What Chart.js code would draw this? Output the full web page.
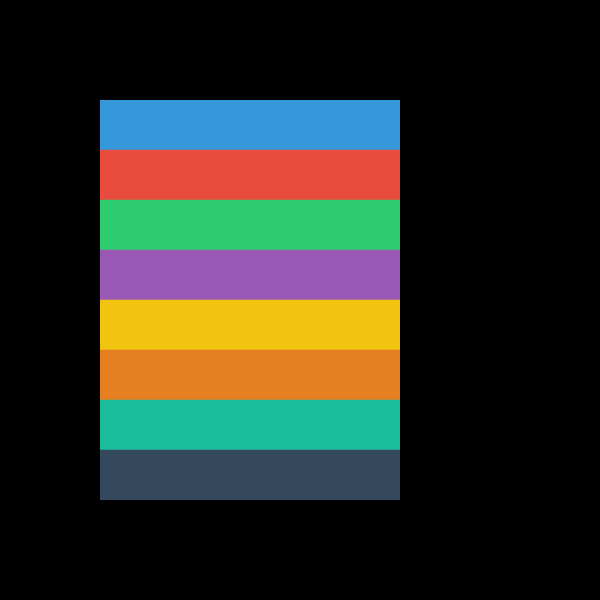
<!DOCTYPE html>
<html>
<head>
<meta charset="utf-8">
<script src="https://cdn.jsdelivr.net/npm/chart.js@4"></script>
<style>
  html, body { margin: 0; padding: 0; background: #000; }
  #wrap { width: 600px; height: 600px; }
</style>
</head>
<body>
<div id="wrap"><canvas id="stripes-chart" width="600" height="600"></canvas></div>
<script>
// DATA
const categories = ['Blue', 'Red', 'Green', 'Purple', 'Yellow', 'Orange', 'Teal', 'Navy'];
const values = [1, 1, 1, 1, 1, 1, 1, 1];
const colors = ['#3498db', '#e74c3c', '#2ecc71', '#9b59b6', '#f1c40f', '#e67e22', '#1abc9c', '#34495e'];

const ctx = document.getElementById('stripes-chart').getContext('2d');

const stripesChart = new Chart(ctx, {
    type: 'bar',
    data: {
        labels: categories,
        datasets: [{
            data: values,
            backgroundColor: colors,
            borderWidth: 0,
            barPercentage: 1,
            categoryPercentage: 1
        }]
    },
    options: {
        indexAxis: 'y',
        responsive: false,
        animation: false,
        layout: {
            padding: { left: 100, right: 200, top: 100, bottom: 100 }
        },
        scales: {
            x: { display: false, min: 0, max: 1 },
            y: { display: false }
        },
        plugins: {
            legend: { display: false },
            tooltip: { enabled: false }
        }
    }
});
</script>
</body>
</html>
